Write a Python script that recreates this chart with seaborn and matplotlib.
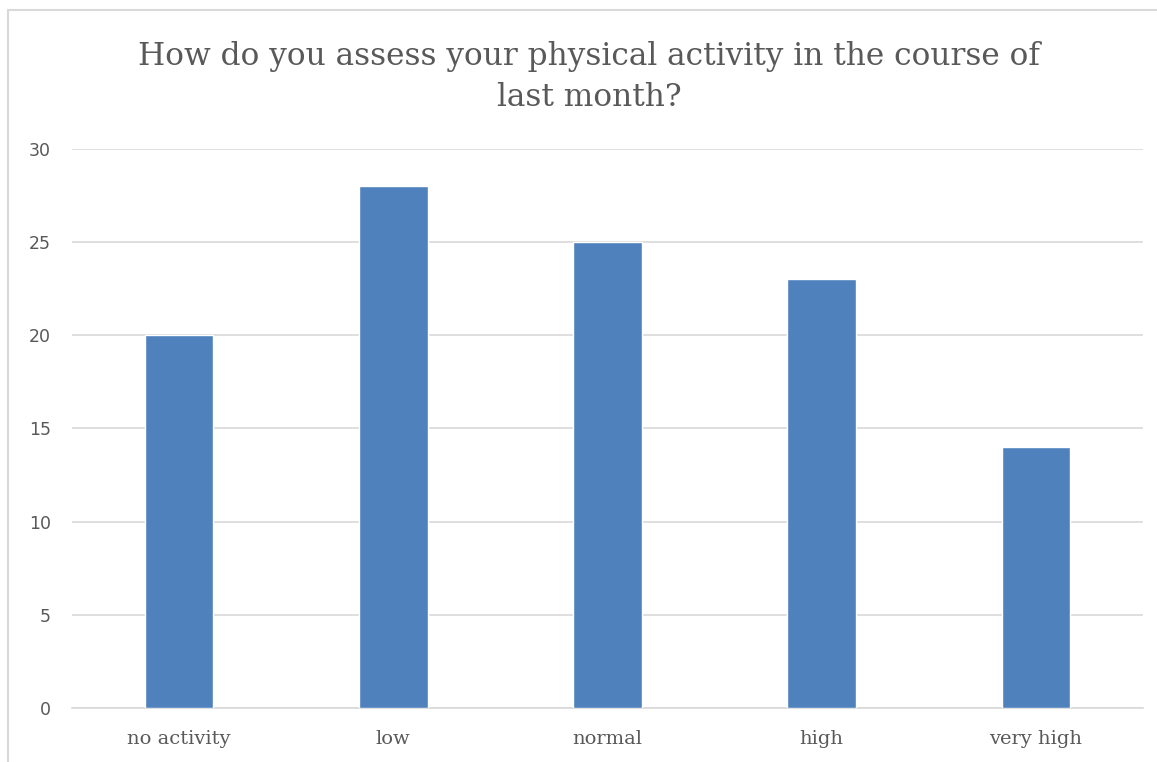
import matplotlib
matplotlib.use("Agg")
import matplotlib.pyplot as plt
import matplotlib.patches as mpatches
import pandas as pd
import seaborn as sns

# data
levels = ["no activity", "low", "normal", "high", "very high"]
counts = [20, 28, 25, 23, 14]
y_ticks = [0, 5, 10, 15, 20, 25, 30]

title = "How do you assess your physical activity in the course of\nlast month?"

sns.set_style("white")
plt.rcParams["font.family"] = ["DejaVu Serif"]

df = pd.DataFrame({"level": levels, "count": counts})

fig = plt.figure(figsize=(11.57, 7.62), dpi=100)
ax = fig.add_axes([0.0622, 0.0709, 0.9258, 0.7336])

sns.barplot(data=df, x="level", y="count", color="#4F81BD", width=0.32,
            saturation=1, ax=ax, zorder=3)

ax.set_xlim(-0.5, len(levels) - 0.5)
ax.set_ylim(0, 30)
ax.set_yticks(y_ticks)
ax.yaxis.grid(True, color="#D9D9D9", linewidth=1.2, zorder=0)
ax.set_axisbelow(True)
for s in ["top", "right", "left"]:
    ax.spines[s].set_visible(False)
ax.spines["bottom"].set_color("#D9D9D9")
ax.spines["bottom"].set_linewidth(1.2)

ax.set_xlabel("")
ax.set_ylabel("")
ax.tick_params(axis="both", length=0, colors="#595959")
ax.tick_params(axis="y", pad=15)
ax.tick_params(axis="x", pad=16)
for lbl in ax.get_yticklabels():
    lbl.set_family(["DejaVu Sans"])
    lbl.set_fontsize(12.5)
for lbl in ax.get_xticklabels():
    lbl.set_fontsize(14)

fig.text(0.509, 0.899, title, ha="center", va="center", fontsize=22.5,
         color="#595959", linespacing=1.38)

# light chart border like the spreadsheet frame
fig.patches.append(mpatches.Rectangle((8 / 1157, -0.01), 1.1, 1 - 10 / 762 + 0.01,
                                      transform=fig.transFigure, fill=False,
                                      edgecolor="#D9D9D9", linewidth=1.5))

fig.savefig("out.png", dpi=100)
